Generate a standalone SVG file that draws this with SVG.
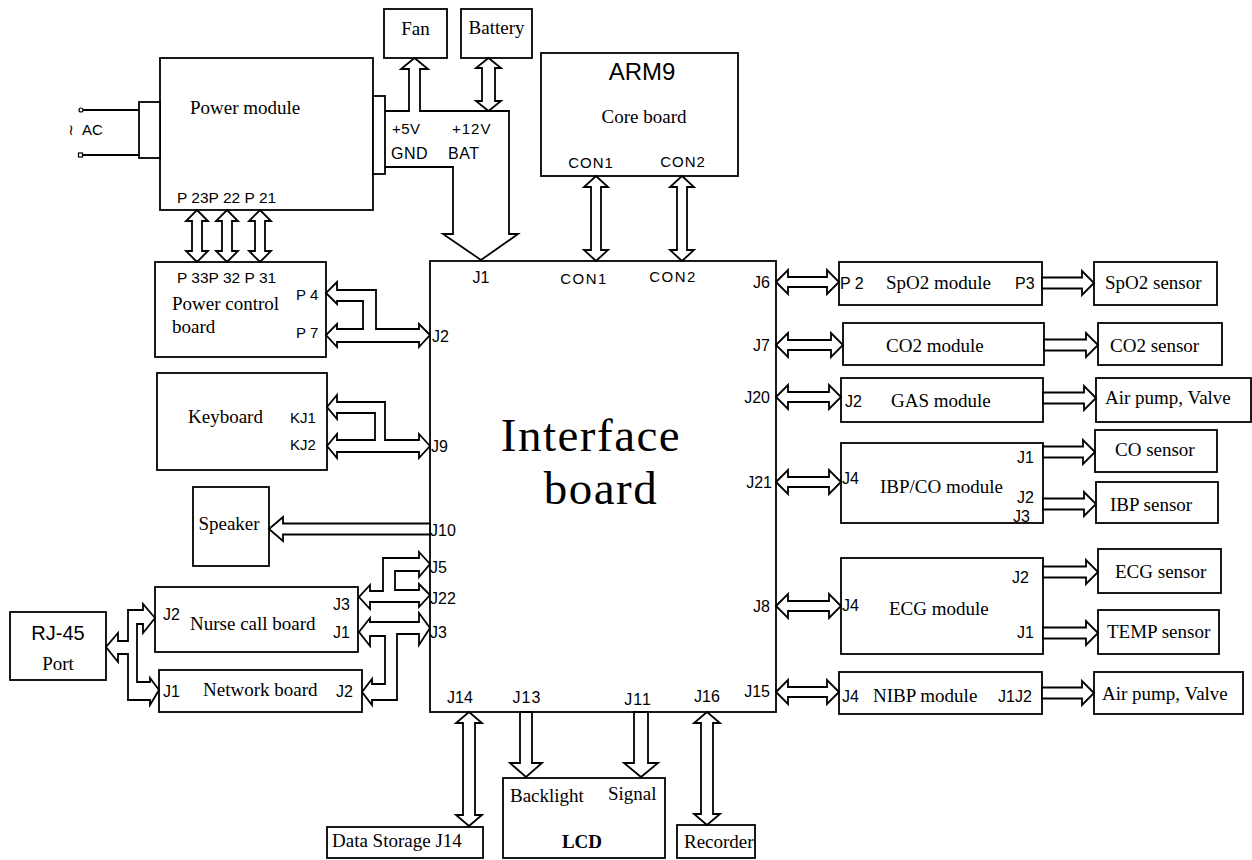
<svg xmlns="http://www.w3.org/2000/svg" width="1252" height="860" viewBox="0 0 1252 860">
<style>
.box{fill:#fff;stroke:#000;stroke-width:1.8}
.arr{fill:#fff;stroke:#000;stroke-width:1.8;stroke-linejoin:miter}
.ln{fill:none;stroke:#000;stroke-width:1.8}
.s{font-family:"Liberation Serif","Times New Roman",serif;font-size:19px;fill:#000}
.a{font-family:"Liberation Sans",Arial,sans-serif;font-size:16px;fill:#000}
.m{text-anchor:middle}
.e{text-anchor:end}
</style>
<rect width="1252" height="860" fill="#fff"/>

<g id="ac-input">
<line class="ln" x1="83" y1="110" x2="139" y2="110"/>
<line class="ln" x1="83" y1="155" x2="139" y2="155"/>
<circle cx="81" cy="110" r="2" fill="#fff" stroke="#000" stroke-width="1.2"/>
<rect x="78.5" y="153" width="4" height="4" fill="#fff" stroke="#000" stroke-width="1.2"/>
<text x="71" y="135" style="font-family:'DejaVu Sans',sans-serif;font-size:15px" text-anchor="middle">≀</text>
<text class="a" x="82" y="135" style="font-size:15px">AC</text>
</g>

<g id="power-module">
<rect class="box" x="160" y="58" width="213" height="152"/>
<rect class="box" x="139" y="102" width="21" height="56"/>
<rect class="box" x="373" y="96" width="12" height="78"/>
<text class="s" x="190" y="114">Power module</text>
<text class="a" x="177" y="203" style="font-size:15.5px">P 23P 22 P 21</text>
<text class="a" x="392" y="134" style="font-size:15px" letter-spacing="0.5">+5V</text>
<text class="a" x="452" y="134" style="font-size:15px" letter-spacing="1">+12V</text>
<text class="a" x="391" y="159" letter-spacing="0.5">GND</text>
<text class="a" x="448" y="159" letter-spacing="0.5">BAT</text>
</g>

<g id="fan">
<rect class="box" x="384" y="9" width="63" height="49"/>
<text class="s m" x="415.5" y="35">Fan</text>
</g>

<g id="battery">
<rect class="box" x="461" y="9" width="71" height="49"/>
<text class="s m" x="496.5" y="34">Battery</text>
</g>

<g id="arm9-core-board">
<rect class="box" x="541" y="53" width="197" height="123"/>
<text class="a m" x="642" y="80" style="font-size:24px">ARM9</text>
<text class="s m" x="644" y="123">Core board</text>
<text class="a m" x="591" y="168" style="font-size:15px" letter-spacing="1">CON1</text>
<text class="a m" x="683" y="167" style="font-size:15px" letter-spacing="1">CON2</text>
</g>

<g id="power-control-board">
<rect class="box" x="155" y="262" width="171" height="95"/>
<text class="a" x="177" y="283" style="font-size:15.5px">P 33P 32 P 31</text>
<text class="s" x="172" y="310">Power control</text>
<text class="s" x="172" y="333">board</text>
<text class="a" x="296" y="300" style="font-size:15px">P 4</text>
<text class="a" x="296" y="338" style="font-size:15px">P 7</text>
</g>

<g id="keyboard">
<rect class="box" x="157" y="373" width="170" height="97"/>
<text class="s" x="188" y="423">Keyboard</text>
<text class="a" x="290" y="423" style="font-size:15px">KJ1</text>
<text class="a" x="290" y="450" style="font-size:15px">KJ2</text>
</g>

<g id="speaker">
<rect class="box" x="193" y="487" width="76" height="79"/>
<text class="s m" x="229" y="530">Speaker</text>
</g>

<g id="nurse-call-board">
<rect class="box" x="155" y="587" width="203" height="65"/>
<text class="a" x="163" y="620">J2</text>
<text class="s" x="190" y="630">Nurse call board</text>
<text class="a" x="333" y="610">J3</text>
<text class="a" x="333" y="638">J1</text>
</g>

<g id="network-board">
<rect class="box" x="159" y="670" width="203" height="42"/>
<text class="a" x="163" y="697">J1</text>
<text class="s" x="203" y="696">Network board</text>
<text class="a" x="336" y="697">J2</text>
</g>

<g id="rj45-port">
<rect class="box" x="10" y="612" width="96" height="68"/>
<text class="a m" x="58" y="640" style="font-size:20px">RJ-45</text>
<text class="s m" x="58" y="670">Port</text>
</g>

<g id="interface-board">
<rect class="box" x="430" y="261" width="346" height="451"/>
<text class="s m" x="591" y="451" style="font-size:47px" letter-spacing="1.5">Interface</text>
<text class="s m" x="601" y="504" style="font-size:47px" letter-spacing="1.5">board</text>
<text class="a m" x="481" y="283">J1</text>
<text class="a m" x="584" y="284" style="font-size:15px" letter-spacing="1.5">CON1</text>
<text class="a m" x="673" y="282" style="font-size:15px" letter-spacing="1.5">CON2</text>
<text class="a e" x="770" y="288">J6</text>
<text class="a e" x="770" y="351">J7</text>
<text class="a e" x="770" y="403">J20</text>
<text class="a e" x="772" y="488">J21</text>
<text class="a e" x="770" y="612">J8</text>
<text class="a e" x="770" y="697">J15</text>
<text class="a" x="432" y="342">J2</text>
<text class="a" x="431" y="452">J9</text>
<text class="a" x="430" y="536">J10</text>
<text class="a" x="430" y="573">J5</text>
<text class="a" x="430" y="604">J22</text>
<text class="a" x="430" y="638">J3</text>
<text class="a m" x="460" y="703">J14</text>
<text class="a m" x="527" y="703" letter-spacing="1">J13</text>
<text class="a m" x="638" y="705" letter-spacing="1">J11</text>
<text class="a m" x="707" y="702">J16</text>
</g>

<g id="data-storage">
<rect class="box" x="327" y="827" width="156" height="31"/>
<text class="s" x="332" y="847">Data Storage J14</text>
</g>

<g id="lcd">
<rect class="box" x="503" y="778" width="162" height="80"/>
<text class="s" x="510" y="802">Backlight</text>
<text class="s" x="608" y="800">Signal</text>
<text class="s m" x="582" y="848" font-weight="bold">LCD</text>
</g>

<g id="recorder">
<rect class="box" x="677" y="825" width="78" height="33"/>
<text class="s" x="684" y="848">Recorder</text>
</g>

<g id="spo2-module">
<rect class="box" x="839" y="262" width="203" height="43"/>
<text class="a" x="840" y="289">P 2</text>
<text class="s" x="886" y="289">SpO2 module</text>
<text class="a" x="1015" y="289">P3</text>
</g>
<g id="spo2-sensor">
<rect class="box" x="1094" y="262" width="123" height="43"/>
<text class="s" x="1105" y="289">SpO2 sensor</text>
</g>

<g id="co2-module">
<rect class="box" x="843" y="323" width="201" height="42"/>
<text class="s" x="886" y="352">CO2 module</text>
</g>
<g id="co2-sensor">
<rect class="box" x="1098" y="323" width="124" height="42"/>
<text class="s" x="1110" y="352">CO2 sensor</text>
</g>

<g id="gas-module">
<rect class="box" x="841" y="378" width="202" height="44"/>
<text class="a" x="845" y="407">J2</text>
<text class="s" x="891" y="407">GAS module</text>
</g>
<g id="gas-air-pump-valve">
<rect class="box" x="1096" y="378" width="155" height="44"/>
<text class="s" x="1105" y="404">Air pump, Valve</text>
</g>

<g id="ibp-co-module">
<rect class="box" x="841" y="443" width="202" height="80"/>
<text class="a" x="842" y="484">J4</text>
<text class="s" x="880" y="493">IBP/CO module</text>
<text class="a" x="1017" y="463">J1</text>
<text class="a" x="1017" y="503">J2</text>
<text class="a" x="1013" y="522">J3</text>
</g>
<g id="co-sensor">
<rect class="box" x="1095" y="430" width="122" height="42"/>
<text class="s" x="1115" y="456">CO sensor</text>
</g>
<g id="ibp-sensor">
<rect class="box" x="1096" y="482" width="122" height="41"/>
<text class="s" x="1110" y="511">IBP sensor</text>
</g>

<g id="ecg-module">
<rect class="box" x="841" y="558" width="202" height="96"/>
<text class="a" x="842" y="611">J4</text>
<text class="s" x="889" y="615">ECG module</text>
<text class="a" x="1012" y="583">J2</text>
<text class="a" x="1017" y="638">J1</text>
</g>
<g id="ecg-sensor">
<rect class="box" x="1098" y="549" width="123" height="44"/>
<text class="s" x="1115" y="578">ECG sensor</text>
</g>
<g id="temp-sensor">
<rect class="box" x="1098" y="610" width="121" height="44"/>
<text class="s" x="1107" y="638">TEMP sensor</text>
</g>

<g id="nibp-module">
<rect class="box" x="839" y="672" width="203" height="42"/>
<text class="a" x="842" y="702">J4</text>
<text class="s" x="873" y="702">NIBP module</text>
<text class="a" x="998" y="702">J1J2</text>
</g>
<g id="nibp-air-pump-valve">
<rect class="box" x="1094" y="672" width="149" height="42"/>
<text class="s" x="1102" y="700">Air pump, Valve</text>
</g>

<g id="connectors">
<path class="ln" d="M385,111 H409 V69 H401 L414.5,58 L428,69 H420 V111 H509 V234 H518 L481,260 L443,234 H453 V167 H385"/>
<polygon class="arr" points="488.5,58 501,68 495,68 495,101 501,101 488.5,111 476,101 482,101 482,68 476,68"/>
<polygon class="arr" points="596,176 608,187 601,187 601,250 608,250 596,261 584,250 591,250 591,187 584,187"/>
<polygon class="arr" points="682,176 694,187 687,187 687,250 694,250 682,261 670,250 677,250 677,187 670,187"/>
<polygon class="arr" points="197,210 208,221 202,221 202,251 208,251 197,262 186,251 192,251 192,221 186,221"/>
<polygon class="arr" points="227,210 238,221 232,221 232,251 238,251 227,262 216,251 222,251 222,221 216,221"/>
<polygon class="arr" points="260,210 271,221 265,221 265,251 271,251 260,262 249,251 255,251 255,221 249,221"/>
<polygon class="arr" points="430,335 419,324 419,329 376,329 376,290 337,290 337,282 326,293 337,304 337,301 363,301 363,329 337,329 337,324 326,335 337,347 337,342 419,342 419,347"/>
<polygon class="arr" points="430,446 419,434 419,440 385,440 385,402 337,402 337,395 327,407 337,419 337,413 375,413 375,440 337,440 337,434 327,446 337,458 337,452 419,452 419,458"/>
<polygon class="arr" points="430,523.5 283,523.5 283,517 269,529 283,541 283,534.5 430,534.5"/>
<polygon class="arr" points="430,595 419,584 419,590 395,590 395,571 419,571 419,577 430,564 419,552 419,558 383,558 383,591 370,591 370,585 359,597 370,609 370,602 419,602 419,607"/>
<polygon class="arr" points="430,628 419,613 419,622 370,622 370,618 359,632 370,646 370,636 385,636 385,684 372,684 372,679 362,692 372,705 372,700 397,700 397,634 419,634 419,645"/>
<polygon class="arr" points="106,647 118,633 118,641 128,641 128,610 143,610 143,604 155,618 143,633 143,624 137,624 137,682 150,682 150,678 159,690 150,705 150,700 128,700 128,654 118,654 118,662"/>
<polygon class="arr" points="469,712 482,723 475,723 475,815 482,815 469,826 456,815 463,815 463,723 456,723"/>
<polygon class="arr" points="520,712 520,763 510,763 526,777 542,763 532,763 532,712"/>
<polygon class="arr" points="634,712 634,763 624,763 641,777 658,763 648,763 648,712"/>
<polygon class="arr" points="707,712 720,723 713,723 713,814 720,814 707,825 694,814 701,814 701,723 694,723"/>
<polygon class="arr" points="776,282 788,270 788,277 827,277 827,270 839,282 827,294 827,287 788,287 788,294"/>
<polygon class="arr" points="776,345 788,333 788,340 831,340 831,333 843,345 831,357 831,350 788,350 788,357"/>
<polygon class="arr" points="776,397 788,385 788,392 829,392 829,385 841,397 829,409 829,402 788,402 788,409"/>
<polygon class="arr" points="776,482 788,470 788,477 829,477 829,470 841,482 829,494 829,487 788,487 788,494"/>
<polygon class="arr" points="776,606 788,594 788,601 829,601 829,594 841,606 829,618 829,611 788,611 788,618"/>
<polygon class="arr" points="776,692 788,680 788,687 827,687 827,680 839,692 827,704 827,697 788,697 788,704"/>
<polygon class="arr" points="1042,277.5 1082,277.5 1082,271 1094,283 1082,295 1082,288.5 1042,288.5"/>
<polygon class="arr" points="1044,339.5 1086,339.5 1086,333 1098,345 1086,357 1086,350.5 1044,350.5"/>
<polygon class="arr" points="1043,392.5 1084,392.5 1084,386 1096,398 1084,410 1084,403.5 1043,403.5"/>
<polygon class="arr" points="1043,446.5 1083,446.5 1083,440 1095,452 1083,464 1083,457.5 1043,457.5"/>
<polygon class="arr" points="1043,498.5 1084,498.5 1084,492 1096,504 1084,516 1084,509.5 1043,509.5"/>
<polygon class="arr" points="1043,566.5 1086,566.5 1086,560 1098,572 1086,584 1086,577.5 1043,577.5"/>
<polygon class="arr" points="1043,627.5 1086,627.5 1086,621 1098,633 1086,645 1086,638.5 1043,638.5"/>
<polygon class="arr" points="1042,687.5 1082,687.5 1082,681 1094,693 1082,705 1082,698.5 1042,698.5"/>
</g>
</svg>
